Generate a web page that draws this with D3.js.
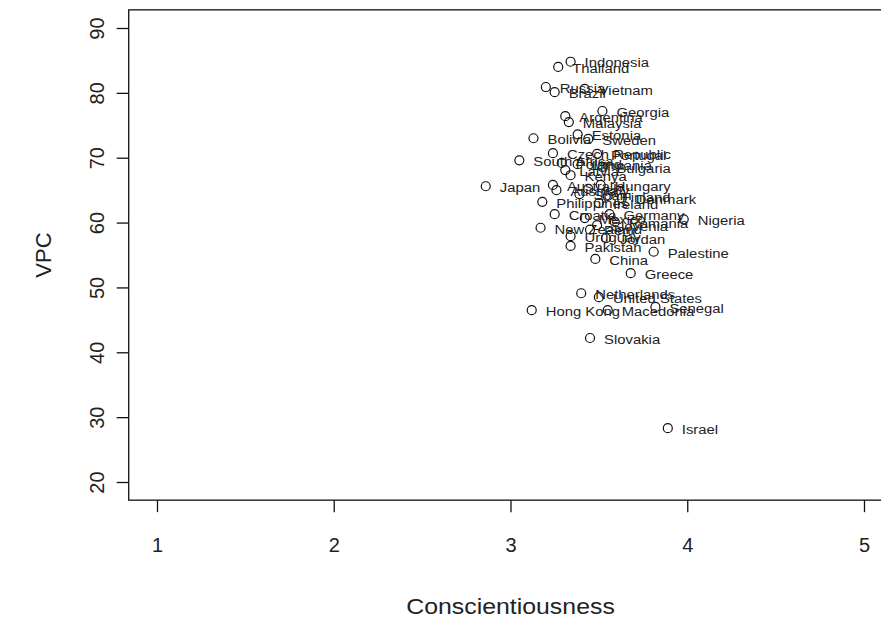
<!DOCTYPE html>
<html>
<head>
<meta charset="utf-8">
<script src="https://cdn.jsdelivr.net/npm/d3@7"></script>
<style>
  html, body { margin: 0; padding: 0; background: #fff; }
  svg text { font-family: "Liberation Sans", Arial, sans-serif; fill: #222; }
</style>
</head>
<body>
<svg id="chart" width="881" height="621"></svg>
<script>
// Country labels, mean conscientiousness and VPC
const countries = [
  "Indonesia", "Thailand", "Russia", "Brazil", "Vietnam", "Georgia", "Argentina", "Malaysia",
  "Bolivia", "Estonia", "Sweden", "Czech Republic", "Portugal", "South Africa",
  "Poland", "Bulgaria", "Latvia", "Kenya", "Lithuania",
  "Japan", "Australia", "Austria", "Italy", "Hungary", "Spain",
  "Philippines", "Finland", "Denmark", "Ireland",
  "Croatia", "Germany", "Romania", "Mexico", "Nigeria", "Slovenia",
  "New Zealand", "Peru", "Uruguay", "Jordan", "Pakistan", "Palestine", "China", "Greece",
  "Netherlands", "United States", "Hong Kong", "Macedonia", "Senegal", "Slovakia", "Israel"
];
const conscientiousness = [
  3.34, 3.27, 3.20, 3.25, 3.42, 3.52, 3.31, 3.33,
  3.13, 3.38, 3.44, 3.24, 3.49, 3.05,
  3.29, 3.52, 3.31, 3.34, 3.38,
  2.86, 3.24, 3.26, 3.44, 3.51, 3.39,
  3.18, 3.55, 3.63, 3.50,
  3.25, 3.56, 3.59, 3.42, 3.98, 3.49,
  3.17, 3.45, 3.34, 3.54, 3.34, 3.81, 3.48, 3.68,
  3.40, 3.50, 3.12, 3.55, 3.82, 3.45, 3.89
];
const vpc = [
  84.8, 84.0, 80.9, 80.1, 80.6, 77.2, 76.4, 75.5,
  73.0, 73.6, 72.9, 70.7, 70.6, 69.6,
  69.2, 68.6, 68.1, 67.3, 69.0,
  65.6, 65.8, 65.0, 65.2, 65.8, 64.4,
  63.2, 64.1, 63.8, 63.0,
  61.3, 61.3, 60.1, 60.7, 60.5, 59.6,
  59.2, 58.9, 57.9, 57.6, 56.4, 55.5, 54.4, 52.2,
  49.1, 48.5, 46.5, 46.5, 47.0, 42.2, 28.3
];
const xTicks = [1, 2, 3, 4, 5];
const yTicks = [20, 30, 40, 50, 60, 70, 80, 90];

const points = countries.map((name, i) => ({ name, x: conscientiousness[i], y: vpc[i] }));

const svg = d3.select("#chart");
const font = "Liberation Sans, Arial, sans-serif";

// Plot region follows base-graphics style: axis range padded by 4% on each side
const x = d3.scaleLinear().domain([1, 5]).range([157, 864]);
const y = d3.scaleLinear().domain([20, 90]).range([482, 28]);
const pad = 0.04;
const xLo = 1 - pad * 4, xHi = 5 + pad * 4;
const yLo = 20 - pad * 70, yHi = 90 + pad * 70;

// Frame around the plotting area
svg.append("rect")
  .attr("x", x(xLo)).attr("y", y(yHi))
  .attr("width", x(xHi) - x(xLo)).attr("height", y(yLo) - y(yHi))
  .attr("fill", "none").attr("stroke", "#111").attr("stroke-width", 1.3);

// X axis below the frame
const xAxis = svg.append("g")
  .attr("transform", `translate(0,${y(yLo)})`)
  .call(d3.axisBottom(x).tickValues(xTicks).tickSize(12).tickPadding(26).tickFormat(d3.format("d")));
xAxis.select(".domain").remove();
xAxis.selectAll(".tick line").attr("stroke", "#111").attr("stroke-width", 1.3);
xAxis.selectAll(".tick text").attr("font-size", 20).attr("font-family", font).attr("fill", "#222");

// Y axis left of the frame, labels turned parallel to the axis
const yAxis = svg.append("g")
  .attr("transform", `translate(${x(xLo)},0)`)
  .call(d3.axisLeft(y).tickValues(yTicks).tickSize(12).tickFormat(d3.format("d")));
yAxis.select(".domain").remove();
yAxis.selectAll(".tick line").attr("stroke", "#111").attr("stroke-width", 1.3);
yAxis.selectAll(".tick text")
  .attr("font-size", 20).attr("font-family", font).attr("fill", "#222")
  .attr("x", null).attr("dy", null)
  .attr("text-anchor", "middle")
  .attr("dominant-baseline", "central")
  .attr("transform", "translate(-32,0) rotate(-90)");

// Axis titles
svg.append("text")
  .attr("transform", `translate(${(x(1) + x(5)) / 2},607) scale(1.13,1)`)
  .attr("text-anchor", "middle").attr("dominant-baseline", "central")
  .attr("font-size", 22)
  .text("Conscientiousness");
svg.append("text")
  .attr("transform", `translate(43,${(y(yLo) + y(yHi)) / 2}) rotate(-90)`)
  .attr("text-anchor", "middle").attr("dominant-baseline", "central")
  .attr("font-size", 22)
  .text("VPC");

// Open circles with country names to their right
const g = svg.append("g");
g.selectAll("circle").data(points).join("circle")
  .attr("cx", d => x(d.x)).attr("cy", d => y(d.y)).attr("r", 4.5)
  .attr("fill", "none").attr("stroke", "#111").attr("stroke-width", 1.2);
g.selectAll("text").data(points).join("text")
  .attr("transform", d => `translate(${x(d.x) + 14},${y(d.y) + 1}) scale(1.1,1)`)
  .attr("dominant-baseline", "central")
  .attr("font-size", 13.5)
  .attr("fill", "#222")
  .text(d => d.name);
</script>
</body>
</html>
